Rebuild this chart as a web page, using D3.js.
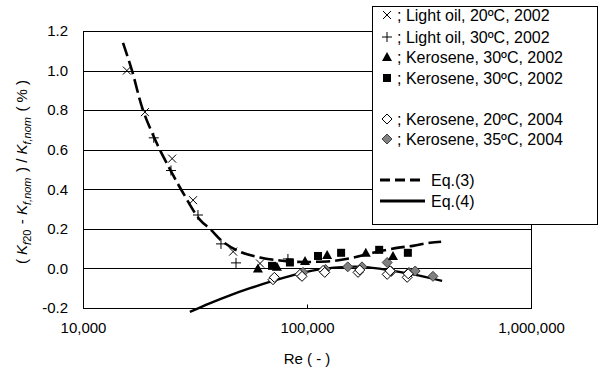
<html>
<head>
<style>
  body { margin: 0; background: #fff; }
  text { font-family: "Liberation Sans", Arial, sans-serif; fill: #000; }
  .grid { stroke: #000; stroke-width: 1; shape-rendering: crispEdges; }
</style>
</head>
<body>
<svg></svg>
<script src="https://d3js.org/d3.v7.min.js"></script>
<script>
// measured series (Re, deviation %)
const lightOil20 = [[15700, 1.0], [18900, 0.79], [25000, 0.555], [31000, 0.345], [46800, 0.085], [61700, 0.025]];
const lightOil30 = [[20700, 0.66], [24700, 0.495], [32600, 0.27], [41300, 0.124], [48200, 0.028], [82200, 0.048]];
const kero30tri = [[60400, 0.0], [73400, 0.008], [98000, 0.038], [123000, 0.068], [183000, 0.079], [242000, 0.063]];
const kero30sq = [[69800, 0.013], [83900, 0.03], [112000, 0.063], [142000, 0.079], [210000, 0.094], [282000, 0.079]];
const kero35 = [[96000, -0.02], [121000, -0.005], [152000, 0.008], [176000, 0.008], [228000, 0.03],
                [238000, -0.015], [285000, -0.02], [304000, -0.013], [365000, -0.04]];
const kero20 = [[70500, -0.057], [71500, -0.045], [93000, -0.03], [95000, -0.04], [118000, -0.01], [120000, -0.02],
                [169000, -0.02], [172000, -0.008], [228000, -0.03], [235000, -0.012], [280000, -0.045], [283000, -0.027]];

// fitted curves
const eq3 = [[15090, 1.14], [16550, 1.0], [18530, 0.80], [21400, 0.63], [23700, 0.53], [27700, 0.39], [33300, 0.245],
             [36900, 0.20], [42200, 0.134], [50200, 0.084], [61700, 0.055], [75700, 0.04], [90200, 0.033],
             [106000, 0.033], [131000, 0.038], [160000, 0.054], [197000, 0.079], [252000, 0.104], [297000, 0.114],
             [354000, 0.13], [397000, 0.135]];
const eq4 = [[30000, -0.22], [37000, -0.175], [45300, -0.136], [55700, -0.1], [70500, -0.063], [93000, -0.025],
             [118000, -0.002], [150000, 0.008], [176000, 0.008], [228000, -0.007], [297000, -0.03], [401000, -0.063]];

const xTicks = [10000, 100000, 1000000];
const yTicks = [-0.2, 0.0, 0.2, 0.4, 0.6, 0.8, 1.0, 1.2];

const legendItems = [
  { sym: "x", label: "; Light oil, 20ºC, 2002" },
  { sym: "plus", label: "; Light oil, 30ºC, 2002" },
  { sym: "tri", label: "; Kerosene, 30ºC, 2002" },
  { sym: "sq", label: "; Kerosene, 30ºC, 2002" },
  { sym: "dOpen", label: "; Kerosene, 20ºC, 2004" },
  { sym: "dGray", label: "; Kerosene, 35ºC, 2004" }
];

const width = 599, height = 369;
const svg = d3.select("svg").attr("width", width).attr("height", height);

const x = d3.scaleLog().domain([1e4, 1e6]).range([83, 531]);
const y = d3.scaleLinear().domain([-0.2, 1.2]).range([308, 31]);

// gridlines
svg.append("g").selectAll("line")
  .data(yTicks)
  .join("line")
  .attr("class", "grid")
  .attr("x1", 83).attr("x2", 531)
  .attr("y1", d => Math.round(y(d)) + 0.5).attr("y2", d => Math.round(y(d)) + 0.5);

// frame
svg.append("rect")
  .attr("x", 83.5).attr("y", Math.round(y(1.2)) + 0.5)
  .attr("width", 448).attr("height", Math.round(y(-0.2)) - Math.round(y(1.2)))
  .attr("fill", "none").attr("stroke", "#000").attr("shape-rendering", "crispEdges");

// axes
const xAxis = svg.append("g")
  .attr("transform", "translate(0," + (Math.round(y(-0.2)) + 0.5) + ")")
  .call(d3.axisBottom(x).tickValues(xTicks).tickFormat(d3.format(",")).tickSizeInner(-4).tickSizeOuter(0).tickPadding(14));
xAxis.select(".domain").remove();
xAxis.selectAll("text").style("font-size", "15px");

const yAxis = svg.append("g")
  .attr("transform", "translate(83,0)")
  .call(d3.axisLeft(y).tickValues(yTicks).tickFormat(d => d.toFixed(1)).tickSize(0).tickPadding(15));
yAxis.select(".domain").remove();
yAxis.selectAll("text").style("font-size", "15px");

// curves
const line = d3.line()
  .x(d => x(d[0]))
  .y(d => y(d[1]))
  .curve(d3.curveCatmullRom);

svg.append("path")
  .datum(eq3)
  .attr("d", line)
  .attr("fill", "none").attr("stroke", "#000").attr("stroke-width", 2.6)
  .attr("stroke-dasharray", "14,5");

svg.append("path")
  .datum(eq4)
  .attr("d", line)
  .attr("fill", "none").attr("stroke", "#000").attr("stroke-width", 2.4);

// marker drawing
function drawSymbol(g, sym) {
  if (sym === "x") {
    g.append("path").attr("d", "M-4,-4L4,4M-4,4L4,-4").attr("stroke", "#000").attr("stroke-width", 1).attr("fill", "none");
  } else if (sym === "plus") {
    g.append("path").attr("d", "M-5,0L5,0M0,-5L0,5").attr("stroke", "#000").attr("stroke-width", 1).attr("fill", "none");
  } else if (sym === "tri") {
    g.append("path").attr("d", "M0,-5L5,4L-5,4Z").attr("fill", "#000");
  } else if (sym === "sq") {
    g.append("rect").attr("x", -4).attr("y", -4).attr("width", 8).attr("height", 8).attr("fill", "#000");
  } else if (sym === "dOpen") {
    g.append("path").attr("d", "M0,-5L5,0L0,5L-5,0Z").attr("fill", "#fff").attr("stroke", "#000").attr("stroke-width", 1);
  } else if (sym === "dGray") {
    g.append("path").attr("d", "M0,-5L5,0L0,5L-5,0Z").attr("fill", "#808080").attr("stroke", "#404040").attr("stroke-width", 1);
  }
}

function plotSeries(data, sym) {
  svg.append("g").selectAll("g")
    .data(data)
    .join("g")
    .attr("transform", d => "translate(" + x(d[0]) + "," + y(d[1]) + ")")
    .each(function() { drawSymbol(d3.select(this), sym); });
}

plotSeries(kero35, "dGray");
plotSeries(kero20, "dOpen");
plotSeries(kero30sq, "sq");
plotSeries(kero30tri, "tri");
plotSeries(lightOil30, "plus");
plotSeries(lightOil20, "x");

// legend
const legend = svg.append("g");
legend.append("rect")
  .attr("x", 372.5).attr("y", 6.5).attr("width", 225).attr("height", 218)
  .attr("fill", "#fff").attr("stroke", "#000").attr("shape-rendering", "crispEdges");

const legendY = [15, 37, 57, 78, 119, 139];
legendItems.forEach(function(item, i) {
  const g = legend.append("g").attr("transform", "translate(387," + legendY[i] + ")");
  drawSymbol(g, item.sym);
  legend.append("text")
    .attr("x", 397).attr("y", legendY[i]).attr("dy", "0.36em")
    .style("font-size", "16px")
    .text(item.label);
});

legend.append("line")
  .attr("x1", 380).attr("x2", 425).attr("y1", 180).attr("y2", 180)
  .attr("stroke", "#000").attr("stroke-width", 3).attr("stroke-dasharray", "10,5");
legend.append("text").attr("x", 431).attr("y", 180).attr("dy", "0.36em").style("font-size", "16px").text("Eq.(3)");
legend.append("line")
  .attr("x1", 380).attr("x2", 425).attr("y1", 201).attr("y2", 201)
  .attr("stroke", "#000").attr("stroke-width", 3);
legend.append("text").attr("x", 431).attr("y", 201).attr("dy", "0.36em").style("font-size", "16px").text("Eq.(4)");

// axis titles
svg.append("text")
  .attr("x", 307).attr("y", 364)
  .attr("text-anchor", "middle")
  .style("font-size", "15px")
  .text("Re ( - )");

const yTitle = svg.append("text")
  .attr("transform", "translate(27,172) rotate(-90)")
  .attr("text-anchor", "middle")
  .style("font-size", "15px");
function kPart(sub) {
  yTitle.append("tspan").style("font-style", "italic").text("K");
  yTitle.append("tspan").attr("dy", 4).style("font-size", "11px").style("font-style", "italic").text(sub[0]);
  if (sub[1]) yTitle.append("tspan").style("font-size", "11px").text(sub[1]);
  yTitle.append("tspan").attr("dy", -4).text("\u200a");
}
yTitle.append("tspan").text("( ");
kPart(["f", "20"]);
yTitle.append("tspan").text(" - ");
kPart(["f,nom"]);
yTitle.append("tspan").text(" ) / ");
kPart(["f,nom"]);
yTitle.append("tspan").text(" ( % )");
</script>
</body>
</html>
